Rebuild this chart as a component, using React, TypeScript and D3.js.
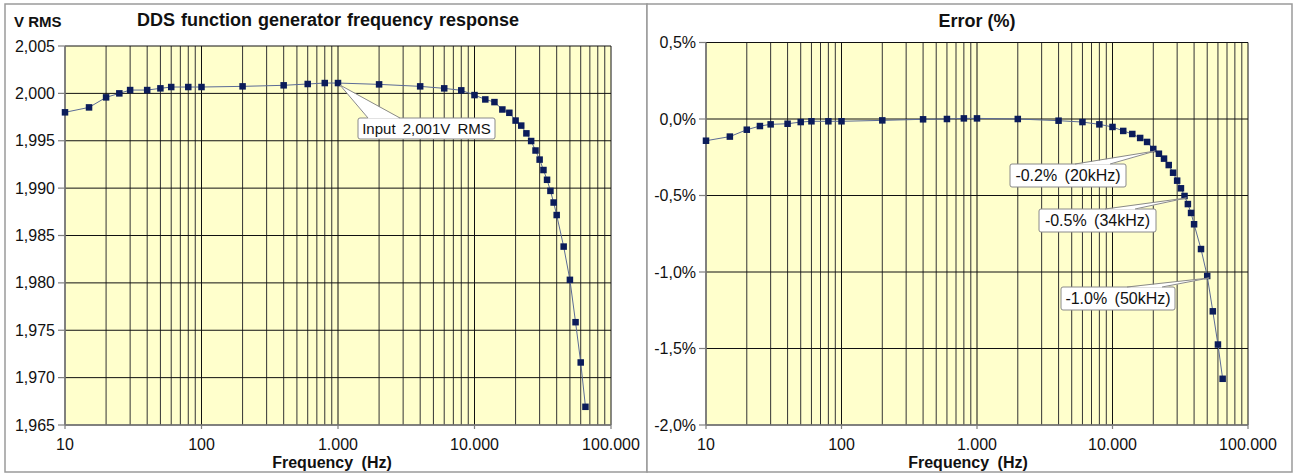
import React from "react";
import * as d3 from "d3";

// measured frequencies (Hz)
const freqs = [
  10, 15, 20, 25, 30, 40, 50, 60, 80, 100, 200, 400, 600, 800, 1000, 2000, 4000,
  6000, 8000, 10000, 12000, 14000, 16000, 18000, 20000, 22000, 24000, 26000,
  28000, 30000, 32000, 34000, 36000, 38000, 40000, 45000, 50000, 55000, 60000,
  65000,
];

// output voltage (V RMS)
const vrms = [
  1.998, 1.99852, 1.99958, 2.0, 2.00035, 2.00035, 2.00053, 2.00067, 2.00067,
  2.00067, 2.00074, 2.00085, 2.00099, 2.00109, 2.00109, 2.00095, 2.00074,
  2.00053, 2.00032, 1.99982, 1.99936, 1.99908, 1.9983, 1.99795, 1.99713,
  1.9966, 1.99578, 1.99497, 1.99397, 1.99301, 1.99191, 1.99088, 1.98971,
  1.98848, 1.98716, 1.98383, 1.98032, 1.97585, 1.9716, 1.96692,
];

// error (%)
const errPct = [
  -0.142, -0.115, -0.07, -0.046, -0.035, -0.031, -0.02, -0.015, -0.015, -0.015,
  -0.009, -0.002, 0.0, 0.004, 0.004, 0.0, -0.011, -0.02, -0.035, -0.052, -0.078,
  -0.098, -0.124, -0.15, -0.196, -0.227, -0.259, -0.301, -0.351, -0.403, -0.453,
  -0.503, -0.556, -0.614, -0.688, -0.85, -1.026, -1.257, -1.474, -1.698,
];

const xTicks = [10, 100, 1000, 10000, 100000];
const xTickLabels = ["10", "100", "1.000", "10.000", "100.000"];

const vTicks = [2.005, 2.0, 1.995, 1.99, 1.985, 1.98, 1.975, 1.97, 1.965];
const vTickLabels = ["2,005", "2,000", "1,995", "1,990", "1,985", "1,980", "1,975", "1,970", "1,965"];

const eTicks = [0.5, 0.0, -0.5, -1.0, -1.5, -2.0];
const eTickLabels = ["0,5%", "0,0%", "-0,5%", "-1,0%", "-1,5%", "-2,0%"];

const vNotes = [{ freq: 1000, text: "Input 2,001V RMS" }];
const eNotes = [
  { freq: 20000, text: "-0.2% (20kHz)" },
  { freq: 34000, text: "-0.5% (34kHz)" },
  { freq: 50000, text: "-1.0% (50kHz)" },
];

// callout box placement (px)
const vNoteLayout = [{ x: 358, y: 118, w: 137, h: 21, b0: 368, b1: 400 }];
const eNoteLayout = [
  { x: 1010, y: 164, w: 116, h: 23, b0: 1075, b1: 1110 },
  { x: 1039, y: 209, w: 117, h: 23, b0: 1105, b1: 1135 },
  { x: 1061, y: 287, w: 114, h: 23, b0: 1127, b1: 1162 },
];

const FONT = "Arial, 'Liberation Sans', sans-serif";

type Layout = { x: number; y: number; w: number; h: number; b0: number; b1: number };

type PanelProps = {
  x0: number;
  x1: number;
  y0: number;
  y1: number;
  domain: [number, number];
  values: number[];
  ticks: number[];
  tickLabels: string[];
  notes: { freq: number; text: string }[];
  layout: Layout[];
  noteSize: number;
  noteSpacing: number;
};

const Panel = ({
  x0, x1, y0, y1, domain, values, ticks, tickLabels, notes, layout, noteSize, noteSpacing,
}: PanelProps) => {
  const x = d3.scaleLog().domain([10, 100000]).range([x0, x1]);
  const y = d3.scaleLinear().domain(domain).range([y1, y0]);
  const grid = x.ticks();
  const line = d3
    .line<number>()
    .x((_, i) => x(freqs[i]))
    .y((d) => y(d));

  return (
    <g>
      <rect x={x0} y={y0} width={x1 - x0} height={y1 - y0} fill="#ffffcc" />
      {grid.map((g) => {
        const major = Math.abs(Math.log10(g) - Math.round(Math.log10(g))) < 1e-9;
        return (
          <line
            key={"v" + g}
            x1={x(g)}
            x2={x(g)}
            y1={y0}
            y2={y1}
            stroke={major ? "#111" : "#333"}
            strokeWidth={1}
          />
        );
      })}
      {ticks.map((t) => (
        <line key={"h" + t} x1={x0} x2={x1} y1={y(t)} y2={y(t)} stroke="#111" strokeWidth={1} />
      ))}
      {/* axes */}
      <line x1={x0} x2={x0} y1={y0} y2={y1} stroke="#7f7f7f" strokeWidth={1.5} />
      <line x1={x0} x2={x1} y1={y1} y2={y1} stroke="#7f7f7f" strokeWidth={1.5} />
      {ticks.map((t, i) => (
        <g key={"yt" + t}>
          <line x1={x0 - 7} x2={x0} y1={y(t)} y2={y(t)} stroke="#7f7f7f" strokeWidth={1.2} />
          <text x={x0 - 10} y={y(t) + 5.5} textAnchor="end" fontSize={16} fontFamily={FONT} fill="#111">
            {tickLabels[i]}
          </text>
        </g>
      ))}
      {xTicks.map((t, i) => (
        <g key={"xt" + t}>
          <line x1={x(t)} x2={x(t)} y1={y1} y2={y1 + 4} stroke="#7f7f7f" strokeWidth={1.2} />
          <text x={x(t)} y={y1 + 25} textAnchor="middle" fontSize={16} fontFamily={FONT} fill="#111">
            {xTickLabels[i]}
          </text>
        </g>
      ))}
      {/* series */}
      <path d={line(values) ?? ""} fill="none" stroke="#5b6b96" strokeWidth={1} />
      {values.map((v, i) => (
        <rect key={"m" + i} x={x(freqs[i]) - 3.25} y={y(v) - 3.25} width={6.5} height={6.5} fill="#0b1c5a" />
      ))}
      {/* callouts */}
      {notes.map((n, i) => {
        const idx = freqs.indexOf(n.freq);
        const px = x(n.freq) + 2;
        const py = y(values[idx]) + 2;
        const L = layout[i];
        return (
          <g key={"n" + i}>
            <rect x={L.x} y={L.y} width={L.w} height={L.h} rx={2} fill="#fff" stroke="#8a8a8a" strokeWidth={1} />
            <polygon
              points={`${L.b0},${L.y + 0.5} ${px},${py} ${L.b1},${L.y + 0.5}`}
              fill="#fff"
              stroke="none"
            />
            <polyline
              points={`${L.b0},${L.y} ${px},${py} ${L.b1},${L.y}`}
              fill="none"
              stroke="#8a8a8a"
              strokeWidth={1}
            />
            <text
              x={L.x + L.w / 2}
              y={L.y + L.h / 2 + noteSize * 0.36}
              textAnchor="middle"
              fontSize={noteSize}
              fontFamily={FONT}
              wordSpacing={noteSpacing}
              fill="#111"
            >
              {n.text}
            </text>
          </g>
        );
      })}
    </g>
  );
};

export default function App() {
  return (
    <svg
      width={1295}
      height={474}
      style={{ position: "absolute", left: 0, top: 0, background: "#fff" }}
    >
      <rect x={5} y={4} width={642} height={468} fill="#fff" stroke="#9a9a9a" strokeWidth={1.5} />
      <rect x={647} y={4} width={645} height={468} fill="#fff" stroke="#9a9a9a" strokeWidth={1.5} />

      <Panel
        x0={65}
        x1={611}
        y0={46}
        y1={425}
        domain={[1.965, 2.005]}
        values={vrms}
        ticks={vTicks}
        tickLabels={vTickLabels}
        notes={vNotes}
        layout={vNoteLayout}
        noteSize={15}
        noteSpacing={3}
      />
      <Panel
        x0={706}
        x1={1248}
        y0={42.5}
        y1={425}
        domain={[-2.0, 0.5]}
        values={errPct}
        ticks={eTicks}
        tickLabels={eTickLabels}
        notes={eNotes}
        layout={eNoteLayout}
        noteSize={16}
        noteSpacing={3}
      />

      <text x={14} y={27} fontSize={15} fontWeight="bold" fontFamily={FONT} fill="#111">
        V RMS
      </text>
      <text x={328} y={26} textAnchor="middle" fontSize={18} fontWeight="bold" fontFamily={FONT} wordSpacing={1} fill="#111">
        DDS function generator frequency response
      </text>
      <text x={977} y={27} textAnchor="middle" fontSize={18} fontWeight="bold" fontFamily={FONT} fill="#111">
        Error (%)
      </text>
      <text x={332} y={468} textAnchor="middle" fontSize={16} fontWeight="bold" fontFamily={FONT} wordSpacing={4} fill="#111">
        Frequency (Hz)
      </text>
      <text x={968} y={468} textAnchor="middle" fontSize={16} fontWeight="bold" fontFamily={FONT} wordSpacing={4} fill="#111">
        Frequency (Hz)
      </text>
    </svg>
  );
}
